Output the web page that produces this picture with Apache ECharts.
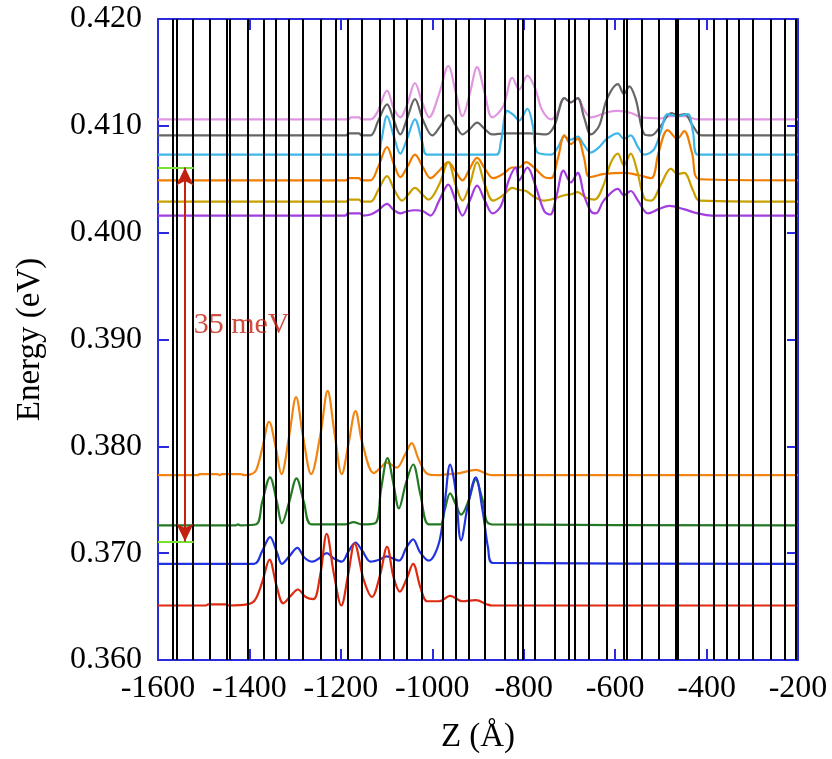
<!DOCTYPE html>
<html>
<head>
<meta charset="utf-8">
<script src="https://cdn.jsdelivr.net/npm/echarts@6/dist/echarts.min.js"></script>
<style>
  html, body { margin: 0; padding: 0; background: #fff; }
  #main { width: 832px; height: 759px; }
</style>
</head>
<body>
<div id="main"></div>
<script>
// layer boundaries (Å)
const zLines = [-1567, -1560, -1525, -1486, -1450, -1443, -1404, -1368, -1342, -1315, -1283, -1243,
  -1212, -1185, -1154, -1115, -1084, -1056, -1024, -978, -948, -920, -885, -841, -814, -803, -775,
  -732, -702, -689, -658, -619, -581, -574, -541, -505, -467, -464, -418, -384, -356, -330, -299,
  -259, -228, -204];

// upper states
const pinkCurve = [[-1600,0.4106],[-1183,0.4106],[-1178,0.4108],[-1160,0.4108],[-1155,0.4106],[-1135,0.4106],
  [-1120,0.4113],[-1099,0.4133],[-1084,0.4116],[-1070,0.4108],[-1055,0.4120],[-1038,0.4140],[-1022,0.4122],
  [-1007,0.4108],[-985,0.4130],[-965,0.4156],[-948,0.4130],[-934,0.4109],[-918,0.4130],[-902,0.4155],
  [-885,0.4130],[-869,0.4108],[-845,0.4118],[-825,0.4145],[-810,0.4134],[-792,0.4147],[-775,0.4135],
  [-760,0.4115],[-740,0.4106],[-725,0.4113],[-711,0.4126],[-697,0.4122],[-682,0.4126],[-668,0.4115],
  [-653,0.4108],[-615,0.4113],[-595,0.4114],[-565,0.4112],[-543,0.4108],[-500,0.4107],[-478,0.4109],
  [-448,0.4109],[-420,0.4106],[-200,0.4106]];
const grayCurve = [[-1600,0.4091],[-1188,0.4091],[-1183,0.4093],[-1160,0.4093],[-1155,0.4091],[-1135,0.4091],
  [-1118,0.4105],[-1099,0.4120],[-1084,0.4105],[-1070,0.4092],[-1055,0.4107],[-1038,0.4125],[-1020,0.4105],
  [-1000,0.4091],[-982,0.4100],[-964,0.4110],[-948,0.4100],[-934,0.4092],[-918,0.4097],[-902,0.4103],
  [-885,0.4097],[-869,0.4092],[-840,0.4093],[-788,0.4093],[-750,0.4092],[-733,0.4100],[-711,0.4126],
  [-697,0.4122],[-682,0.4126],[-668,0.4108],[-653,0.4092],[-635,0.4100],[-618,0.4125],[-594,0.4139],
  [-581,0.4130],[-569,0.4137],[-555,0.4125],[-536,0.4092],[-521,0.4091],[-500,0.4100],[-477,0.4112],
  [-462,0.4110],[-448,0.4111],[-430,0.4100],[-411,0.4091],[-200,0.4091]];
const cyanCurve = [[-1600,0.4073],[-1120,0.4073],[-1112,0.4085],[-1099,0.4109],[-1084,0.4090],[-1070,0.4074],
  [-1055,0.4088],[-1038,0.4106],[-1022,0.4085],[-1011,0.4073],[-860,0.4073],[-850,0.4085],[-836,0.4114],
  [-822,0.4110],[-810,0.4105],[-792,0.4116],[-780,0.4100],[-770,0.4075],[-740,0.4073],[-725,0.4080],
  [-711,0.4090],[-697,0.4087],[-682,0.4090],[-668,0.4082],[-653,0.4075],[-635,0.4080],[-618,0.4088],
  [-594,0.4093],[-581,0.4088],[-566,0.4091],[-550,0.4080],[-536,0.4073],[-515,0.4078],[-500,0.4095],
  [-485,0.4111],[-463,0.4109],[-441,0.4111],[-430,0.4095],[-419,0.4073],[-200,0.4073]];
const orangeUpper = [[-1600,0.4049],[-1188,0.4049],[-1183,0.4051],[-1160,0.4051],[-1155,0.4049],[-1135,0.4049],
  [-1118,0.4062],[-1099,0.4080],[-1084,0.4064],[-1070,0.4052],[-1054,0.4062],[-1038,0.4073],[-1020,0.4061],
  [-1004,0.4051],[-985,0.4058],[-965,0.4066],[-950,0.4058],[-934,0.4049],[-918,0.4060],[-902,0.4070],
  [-885,0.4060],[-867,0.4051],[-845,0.4055],[-825,0.4061],[-810,0.4061],[-795,0.4066],[-775,0.4060],
  [-755,0.4052],[-740,0.4051],[-725,0.4070],[-711,0.4091],[-697,0.4083],[-682,0.4088],[-668,0.4070],
  [-656,0.4052],[-623,0.4055],[-580,0.4056],[-550,0.4054],[-521,0.4051],[-505,0.4075],[-485,0.4096],
  [-464,0.4088],[-449,0.4095],[-432,0.4075],[-415,0.4050],[-200,0.4049]];
const goldCurve = [[-1600,0.4029],[-1188,0.4029],[-1183,0.4031],[-1160,0.4031],[-1155,0.4029],[-1135,0.4029],
  [-1118,0.4040],[-1099,0.4053],[-1083,0.4040],[-1066,0.4030],[-1052,0.4036],[-1038,0.4042],[-1022,0.4036],
  [-1008,0.4031],[-985,0.4045],[-965,0.4066],[-949,0.4045],[-934,0.4030],[-918,0.4045],[-902,0.4066],
  [-885,0.4045],[-867,0.4030],[-845,0.4035],[-825,0.4042],[-810,0.4040],[-795,0.4039],[-775,0.4033],
  [-755,0.4030],[-740,0.4031],[-711,0.4035],[-696,0.4036],[-682,0.4038],[-665,0.4033],[-645,0.4031],
  [-625,0.4045],[-610,0.4065],[-594,0.4074],[-581,0.4063],[-566,0.4074],[-552,0.4058],[-536,0.4032],
  [-521,0.4030],[-500,0.4045],[-478,0.4060],[-464,0.4055],[-449,0.4056],[-430,0.4040],[-415,0.4030],
  [-200,0.4029]];
const purpleCurve = [[-1600,0.4016],[-1190,0.4016],[-1185,0.4018],[-1158,0.4018],[-1152,0.4016],[-1135,0.4017],
  [-1118,0.4021],[-1099,0.4027],[-1084,0.4021],[-1070,0.4018],[-1055,0.4020],[-1038,0.4021],[-1020,0.4020],
  [-1004,0.4016],[-985,0.4030],[-965,0.4045],[-949,0.4030],[-934,0.4016],[-918,0.4030],[-902,0.4044],
  [-885,0.4030],[-868,0.4018],[-850,0.4025],[-832,0.4050],[-817,0.4061],[-810,0.4049],[-792,0.4061],
  [-775,0.4045],[-755,0.4020],[-742,0.4017],[-728,0.4035],[-713,0.4058],[-697,0.4047],[-682,0.4056],
  [-668,0.4035],[-653,0.4020],[-642,0.4018],[-625,0.4030],[-594,0.4041],[-581,0.4035],[-566,0.4039],
  [-550,0.4030],[-528,0.4018],[-505,0.4022],[-481,0.4025],[-450,0.4022],[-419,0.4018],[-389,0.4016],
  [-200,0.4016]];

// lower states
const orangeLower = [[-1600,0.3773],[-1512,0.3773],[-1510,0.3774],[-1470,0.3774],[-1465,0.3773],[-1460,0.3774],
  [-1420,0.3774],[-1410,0.3773],[-1395,0.3774],[-1385,0.3778],[-1372,0.3798],[-1357,0.3823],[-1342,0.3798],
  [-1330,0.3774],[-1313,0.3810],[-1298,0.3846],[-1283,0.3810],[-1265,0.3774],[-1244,0.3813],[-1229,0.3852],
  [-1214,0.3813],[-1198,0.3774],[-1183,0.3803],[-1168,0.3833],[-1153,0.3803],[-1128,0.3775],[-1113,0.3780],
  [-1100,0.3785],[-1078,0.3780],[-1060,0.3792],[-1045,0.3803],[-1030,0.3788],[-1010,0.3774],[-990,0.3773],
  [-965,0.3774],[-940,0.3775],[-920,0.3777],[-905,0.3778],[-890,0.3776],[-880,0.3774],[-870,0.3773],
  [-200,0.3773]];
const greenCurve = [[-1600,0.3726],[-1430,0.3726],[-1425,0.3727],[-1420,0.3726],[-1385,0.3727],[-1372,0.3748],
  [-1355,0.3771],[-1340,0.3748],[-1329,0.3728],[-1313,0.3748],[-1297,0.3770],[-1281,0.3748],[-1264,0.3727],
  [-1190,0.3727],[-1172,0.3729],[-1155,0.3727],[-1125,0.3728],[-1112,0.3760],[-1098,0.3789],[-1085,0.3765],
  [-1073,0.3742],[-1058,0.3765],[-1042,0.3783],[-1026,0.3755],[-1008,0.3727],[-982,0.3727],[-973,0.3740],
  [-961,0.3756],[-949,0.3746],[-937,0.3736],[-920,0.3750],[-905,0.3769],[-890,0.3750],[-870,0.3727],
  [-200,0.3726]];
const blueCurve = [[-1600,0.3690],[-1390,0.3690],[-1372,0.3702],[-1355,0.3715],[-1340,0.3701],[-1329,0.3690],
  [-1313,0.3697],[-1295,0.3705],[-1280,0.3696],[-1262,0.3692],[-1245,0.3696],[-1231,0.3700],[-1215,0.3695],
  [-1198,0.3692],[-1183,0.3702],[-1168,0.3710],[-1153,0.3702],[-1135,0.3692],[-1115,0.3694],[-1100,0.3697],
  [-1073,0.3693],[-1057,0.3705],[-1042,0.3713],[-1027,0.3701],[-1008,0.3693],[-985,0.3710],[-972,0.3750],
  [-961,0.3783],[-950,0.3762],[-937,0.3712],[-922,0.3745],[-905,0.3771],[-890,0.3740],[-878,0.3705],
  [-868,0.3691],[-200,0.3690]];
const redCurve = [[-1600,0.3651],[-1495,0.3651],[-1490,0.3652],[-1450,0.3652],[-1445,0.3651],[-1405,0.3652],
  [-1388,0.3656],[-1372,0.3673],[-1356,0.3694],[-1341,0.3670],[-1326,0.3653],[-1310,0.3660],[-1294,0.3666],
  [-1277,0.3659],[-1260,0.3657],[-1245,0.3680],[-1231,0.3718],[-1215,0.3680],[-1199,0.3651],[-1184,0.3680],
  [-1170,0.3709],[-1150,0.3675],[-1132,0.3659],[-1114,0.3680],[-1099,0.3706],[-1085,0.3678],[-1071,0.3664],
  [-1056,0.3676],[-1042,0.3690],[-1026,0.3668],[-1011,0.3655],[-985,0.3655],[-961,0.3660],[-934,0.3655],
  [-905,0.3656],[-880,0.3652],[-870,0.3651],[-200,0.3651]];

// 35 meV gap marker
const gapLevels = [0.4061, 0.3711];
const gapMarkEnd = -1522;
const arrowZ = -1541;
const gapText = '35 meV';
const gapTextPos = [-1522, 0.3913];

const myChart = echarts.init(document.getElementById('main'));
const font = 'Liberation Serif';
const frameColor = '#2a2ae0';

function curve(data, color) {
  return {
    type: 'line',
    data: data,
    showSymbol: false,
    symbol: 'none',
    smooth: 0.35,
    z: 3,
    lineStyle: { color: color, width: 2.2 },
    silent: true
  };
}

const axisCommon = {
  type: 'value',
  axisLine: { show: true, onZero: false, lineStyle: { color: frameColor, width: 2 } },
  axisTick: { show: true, inside: true, length: 11, lineStyle: { color: frameColor, width: 2 } },
  splitLine: { show: false }
};

const option = {
  animation: false,
  backgroundColor: '#fff',
  grid: { left: 158, right: 34, top: 19, bottom: 99 },
  xAxis: [
    Object.assign({}, axisCommon, {
      min: -1600, max: -200, interval: 200, position: 'bottom',
      name: 'Z (Å)', nameLocation: 'middle', nameGap: 61,
      nameTextStyle: { fontFamily: font, fontSize: 33, color: '#000' },
      axisLabel: { fontFamily: font, fontSize: 32, color: '#000', margin: 13,
        formatter: v => String(v) }
    }),
    Object.assign({}, axisCommon, {
      min: -1600, max: -200, interval: 200, position: 'top',
      axisLabel: { show: false }
    })
  ],
  yAxis: [
    Object.assign({}, axisCommon, {
      min: 0.36, max: 0.42, interval: 0.01, position: 'left',
      name: 'Energy (eV)', nameLocation: 'middle', nameGap: 111, nameRotate: 90,
      nameTextStyle: { fontFamily: font, fontSize: 33, color: '#000' },
      axisLabel: { fontFamily: font, fontSize: 32, color: '#000', margin: 16,
        formatter: v => v.toFixed(3) }
    }),
    Object.assign({}, axisCommon, {
      min: 0.36, max: 0.42, interval: 0.01, position: 'right',
      axisLabel: { show: false }
    })
  ],
  series: [
    {
      type: 'line',
      data: [],
      z: 1,
      silent: true,
      markLine: {
        silent: true,
        symbol: 'none',
        label: { show: false },
        lineStyle: { color: '#000', width: 2, type: 'solid', opacity: 1 },
        data: zLines.map(z => ({ xAxis: z }))
      }
    },
    curve(pinkCurve, '#e196e1'),
    curve(grayCurve, '#666666'),
    curve(cyanCurve, '#3fb6e8'),
    curve(orangeUpper, '#f07d00'),
    curve(goldCurve, '#c9a000'),
    curve(purpleCurve, '#a33de0'),
    curve(orangeLower, '#f08512'),
    curve(greenCurve, '#237a23'),
    curve(blueCurve, '#2233e0'),
    curve(redCurve, '#e02a10'),
    {
      type: 'line',
      data: [],
      z: 4,
      markLine: {
        silent: true,
        symbol: 'none',
        label: { show: false },
        lineStyle: { color: '#77e033', width: 2, type: 'solid' },
        data: gapLevels.map(y => [{ coord: [-1600, y] }, { coord: [gapMarkEnd, y] }])
      }
    },
    {
      type: 'line',
      data: [],
      z: 5,
      markLine: {
        silent: true,
        symbol: ['arrow', 'arrow'],
        symbolSize: [13, 18],
        label: { show: false },
        lineStyle: { color: '#c42010', width: 2, type: 'solid' },
        data: [[{ coord: [arrowZ, gapLevels[0]] }, { coord: [arrowZ, gapLevels[1]] }]]
      }
    },
    {
      type: 'scatter',
      data: [gapTextPos],
      symbolSize: 0,
      z: 6,
      silent: true,
      label: {
        show: true,
        position: 'right',
        distance: 0,
        formatter: gapText,
        fontFamily: font,
        fontSize: 30,
        color: '#c42010'
      }
    }
  ]
};

myChart.setOption(option);
</script>
</body>
</html>
